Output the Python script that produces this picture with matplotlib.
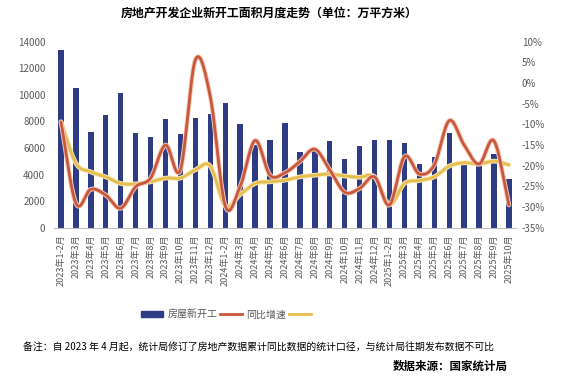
import numpy as np
import matplotlib.pyplot as plt
import matplotlib.patheffects as pe
from matplotlib.lines import Line2D
from matplotlib.patches import Patch

plt.rcParams['font.family'] = ['Noto Sans CJK SC', 'DejaVu Sans']

# Категории (месяцы)
months = (['2023年1-2月'] + [f'2023年{m}月' for m in range(3, 13)]
          + ['2024年1-2月'] + [f'2024年{m}月' for m in range(3, 13)]
          + ['2025年1-2月'] + [f'2025年{m}月' for m in range(3, 11)])

# 房屋新开工, 万平方米
new_starts = [13370, 10510, 7200, 8480, 10135, 7125, 6825, 8180, 7050, 8255, 8555,
              9380, 7800, 6220, 6600, 7880, 5700, 5790, 6520, 5170, 6150, 6600,
              6600, 6370, 4790, 5320, 7125, 4790, 4640, 5545, 3665]

# 同比增速 (月度), %
yoy_month = [-9.4, -29.1, -25.7, -27.1, -30.3, -25.1, -23.0, -15.0, -21.0, 5.6, -3.3,
             -29.7, -25.0, -13.9, -22.3, -21.7, -19.0, -16.0, -21.0, -26.4, -25.5, -22.7,
             -29.5, -17.8, -22.0, -19.8, -9.1, -15.0, -19.6, -14.0, -29.5]

# 累计同比, %
yoy_cum = [-9.4, -19.4, -21.5, -22.7, -24.3, -24.4, -23.9, -23.0, -23.0, -21.0, -20.1,
           -29.7, -27.0, -24.3, -23.9, -23.5, -22.7, -22.3, -22.0, -22.5, -22.8, -22.7,
           -29.4, -24.3, -23.6, -22.7, -20.1, -19.3, -19.6, -18.9, -19.8]


def smooth(y, n=20):
    # Catmull-Rom сглаживание, как в Excel
    y = np.asarray(y, float)
    p = np.concatenate([[2 * y[0] - y[1]], y, [2 * y[-1] - y[-2]]])
    xs, ys = [], []
    for i in range(len(y) - 1):
        t = np.linspace(0, 1, n, endpoint=False)
        p0, p1, p2, p3 = p[i], p[i + 1], p[i + 2], p[i + 3]
        v = 0.5 * (2 * p1 + (-p0 + p2) * t + (2 * p0 - 5 * p1 + 4 * p2 - p3) * t**2
                   + (-p0 + 3 * p1 - 3 * p2 + p3) * t**3)
        xs.append(i + t)
        ys.append(v)
    xs.append([len(y) - 1])
    ys.append([y[-1]])
    return np.concatenate(xs), np.concatenate(ys)


bar_c = '#2E3C85'
org_c = '#C9573C'
yel_c = '#E6BE4E'
txt_c = '#595959'

fig = plt.figure(figsize=(5.71, 3.78), dpi=100)
ax = fig.add_axes([0.0937, 0.3976, 0.8107, 0.4921])
x = np.arange(len(months))
ax.bar(x, new_starts, width=0.36, color=bar_c, zorder=2)
ax.set_xlim(-0.5, len(months) - 0.5)
ax.set_ylim(0, 14000)
ax.set_yticks(range(0, 14001, 2000))
ax.set_xticks(x)
ax.set_xticklabels(months, rotation=90, fontsize=6.5, color=txt_c)
ax.tick_params(axis='y', labelsize=7, colors=txt_c, length=0, pad=6)
ax.tick_params(axis='x', length=0, pad=5)
for s in ['top', 'right', 'left']:
    ax.spines[s].set_visible(False)
ax.spines['bottom'].set_color('#BFBFBF')

ax2 = ax.twinx()
ax2.set_ylim(-35, 10)
ax2.set_yticks(range(-35, 11, 5))
ax2.set_yticklabels([f'{v}%' for v in range(-35, 11, 5)])
ax2.tick_params(axis='y', labelsize=7, colors=txt_c, length=0, pad=4)
for s in ['top', 'right', 'left', 'bottom']:
    ax2.spines[s].set_visible(False)

sx, sy = smooth(yoy_cum)
ax2.plot(sx, sy, color=yel_c, lw=2.0, solid_capstyle='round', zorder=3,
         path_effects=[pe.Stroke(linewidth=3.4, foreground='#F6E6B4'), pe.Normal()])
sx, sy = smooth(yoy_month)
ax2.plot(sx, sy, color=org_c, lw=2.0, solid_capstyle='round', zorder=4,
         path_effects=[pe.Stroke(linewidth=3.4, foreground='#F2C9B8'), pe.Normal()])

fig.text(0.471, 0.965, '房地产开发企业新开工面积月度走势（单位：万平方米）',
         ha='center', va='center', fontsize=8.6, fontweight='bold')

handles = [Patch(color=bar_c), Line2D([], [], color=org_c, lw=2), Line2D([], [], color=yel_c, lw=2)]
fig.legend(handles, ['房屋新开工', '同比增速', ''], loc='center', bbox_to_anchor=(0.40, 0.168),
           ncol=3, frameon=False, fontsize=7.2, labelcolor=txt_c, handlelength=2.2,
           handleheight=0.6, handletextpad=0.4, columnspacing=0.3)

fig.text(0.04, 0.08, '备注：自 2023 年 4 月起，统计局修订了房地产数据累计同比数据的统计口径，与统计局往期发布数据不可比',
         ha='left', va='center', fontsize=7.1)
fig.text(0.89, 0.03, '数据来源：国家统计局', ha='right', va='center', fontsize=8.3, fontweight='bold')

fig.savefig('out.png', dpi=100)
